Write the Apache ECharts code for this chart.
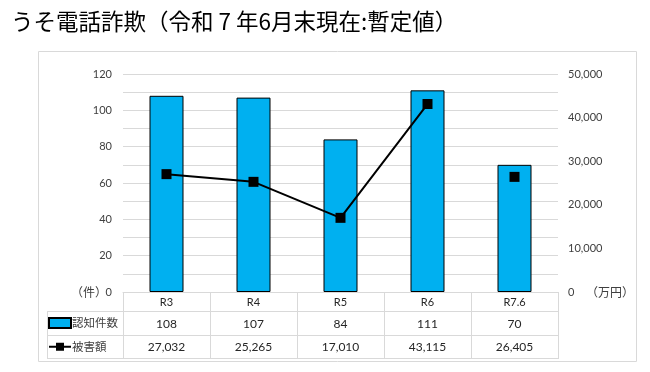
<!DOCTYPE html>
<html><head><meta charset="utf-8">
<script src="https://cdn.jsdelivr.net/npm/echarts@6/dist/echarts.min.js"></script>
<style>html,body{margin:0;padding:0;background:#fff}#c{width:650px;height:372px}</style>
</head><body><div id="c"></div>
<script>
const categories = ['R3', 'R4', 'R5', 'R6', 'R7.6'];
const cases = [108, 107, 84, 111, 70];
const damage = [27032, 25265, 17010, 43115, 26405];
const leftTicks = [0, 20, 40, 60, 80, 100, 120];
const rightTicks = [0, 10000, 20000, 30000, 40000, 50000];

const FONT = 'Lato, "Noto Sans CJK JP", sans-serif';
const JP = '"Noto Sans CJK JP", sans-serif';
const G = {left: 123, right: 650 - 558, top: 74, bottom: 372 - 292};
const gx0 = 123, gx1 = 558, gy = 292;
const colW = (gx1 - gx0) / categories.length;
const fmt = v => v.toLocaleString('en-US');

const chart = echarts.init(document.getElementById('c'));
const lines = [];
const lc = '#d9d9d9';
function hl(x1, x2, y) { lines.push({type:'line', shape:{x1, y1:y, x2, y2:y}, style:{stroke:lc, lineWidth:1}, silent:true}); }
function vl(x, y1, y2) { lines.push({type:'line', shape:{x1:x, y1, x2:x, y2}, style:{stroke:lc, lineWidth:1}, silent:true}); }
hl(47, gx1, 311.5); hl(47, gx1, 335.5); hl(47, gx1, 358.5);
vl(47.5, 311, 359);
for (let i = 0; i <= categories.length; i++) vl(Math.round(gx0 + i * colW) + 0.5, gy, 359);

chart.setOption({
  animation: false,
  textStyle: {fontFamily: FONT},
  title: {text: 'うそ電話詐欺（令和 7 年6月末現在:暫定値）', left: 6, top: 5,
    textStyle: {fontFamily: JP, fontSize: 22.5, fontWeight: 'normal', color: '#000'}},
  grid: G,
  legend: {
    data: [{name: '認知件数', icon: 'rect'}, {name: '被害額'}], orient: 'vertical', left: 48, top: 317, padding: 0,
    itemWidth: 22, itemHeight: 10, itemGap: 12,
    textStyle: {fontFamily: JP, fontSize: 11.5, color: '#404040', padding: [0, 0, 0, -4]}
  },
  xAxis: {
    type: 'category', data: categories,
    axisLine: {show: true, lineStyle: {color: lc}},
    axisTick: {show: false},
    axisLabel: {
      margin: 0, interval: 0,
      formatter: (v, i) => '{h|' + v + '}\n{v|' + fmt(cases[i]) + '}\n{v|' + fmt(damage[i]) + '}',
      rich: {
        h: {fontSize: 11, lineHeight: 20, color: '#262626', fontFamily: FONT},
        v: {fontSize: 12, lineHeight: 23.5, color: '#262626', fontFamily: FONT}
      }
    }
  },
  yAxis: [
    {type: 'value', min: 0, max: 120, interval: 10,
      axisLine: {show: false}, axisTick: {show: false},
      axisLabel: {margin: 11, fontSize: 11, color: '#404040', formatter: v => leftTicks.includes(v) ? String(v) : ''},
      splitLine: {show: true, lineStyle: {color: lc}}},
    {type: 'value', min: 0, max: 50000, interval: 10000,
      axisLine: {show: false}, axisTick: {show: false},
      axisLabel: {margin: 10, fontSize: 11, color: '#404040', formatter: v => rightTicks.includes(v) ? fmt(v) : ''},
      splitLine: {show: false}}
  ],
  series: [
    {name: '認知件数', type: 'bar', data: cases, barWidth: 34, yAxisIndex: 0,
      itemStyle: {color: '#00B0F0', borderColor: '#000', borderWidth: 1}},
    {name: '被害額', type: 'line', yAxisIndex: 1, data: damage.map((v, i) => i < 4 ? v : '-'),
      symbol: 'rect', symbolSize: 10, lineStyle: {color: '#000', width: 2}, itemStyle: {color: '#000'}, z: 5},
    {name: '被害額R7', type: 'line', yAxisIndex: 1, data: damage.map((v, i) => i === 4 ? v : '-'),
      symbol: 'rect', symbolSize: 10, showAllSymbol: true, lineStyle: {color: '#000', width: 2}, itemStyle: {color: '#000'}, z: 5}
  ],
  graphic: [
    {type: 'rect', shape: {x: 38.5, y: 51.5, width: 598, height: 310}, style: {fill: 'none', stroke: lc, lineWidth: 1}, silent: true, z: -1},
    ...lines,
    {type: 'text', x: 71, y: 292, style: {text: '（件）', fontFamily: JP, fontSize: 12, fill: '#404040', textVerticalAlign: 'middle'}},
    {type: 'text', x: 586, y: 292, style: {text: '（万円）', fontFamily: JP, fontSize: 12, fill: '#404040', textVerticalAlign: 'middle'}}
  ]
});
</script></body></html>
